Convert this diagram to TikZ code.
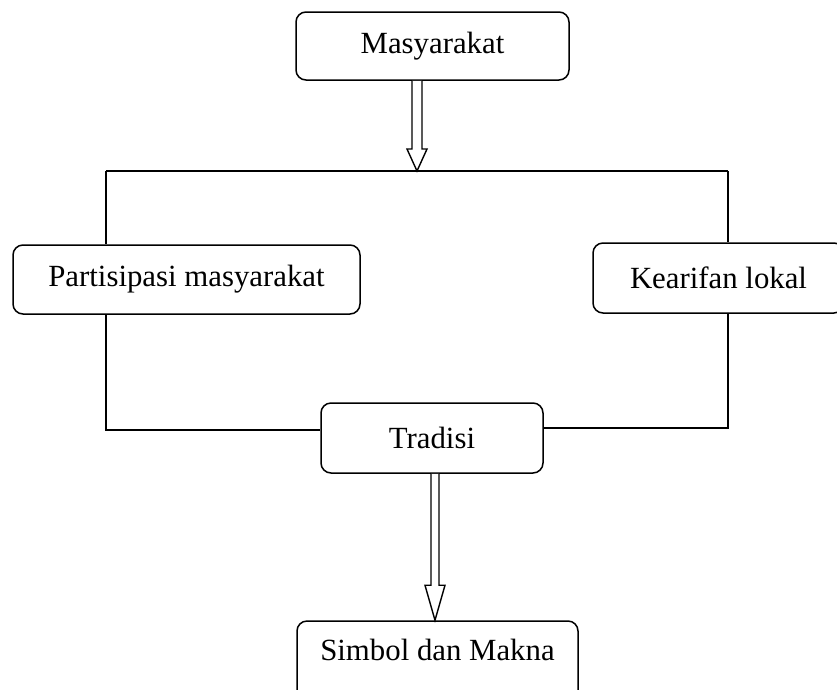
\documentclass[tikz,border=0pt]{standalone}
\usepackage{fontspec}
\setmainfont{Liberation Serif}
\usetikzlibrary{calc}
\newcommand\hollowdown[5]{% start, end, half shaft, half head, head length
  \path[hollow] let \p1=(#1), \p2=(#2) in
    (\x1-#3,\y1) -- (\x1-#3,\y2+#5) -- (\x1-#4,\y2+#5) -- (\x1,\y2)
    -- (\x1+#4,\y2+#5) -- (\x1+#3,\y2+#5) -- (\x1+#3,\y1);}
\begin{document}
\begin{tikzpicture}[x=1pt,y=-1pt,
  box/.style={draw, line width=1.5pt, rounded corners=10pt, inner sep=0pt,
    font=\fontsize{30.8}{36}\selectfont},
  conn/.style={line width=1.5pt},
  hollow/.style={draw, line width=1.4pt, fill=white, line join=miter}]
\clip (0,0) rectangle (837,689);
\fill[white] (0,0) rectangle (837,689);
% connector frame coordinates
\coordinate (tl) at (106,171);
\coordinate (tr) at (728,171);
\coordinate (bl) at (106,430);
\coordinate (br) at (728,428);
% nodes
\node[box, minimum width=273pt, minimum height=68pt] (m) at (432.5,46) {Masyarakat};
\node[box, minimum width=347pt, minimum height=69pt] (p) at (186.5,279.5) {Partisipasi masyarakat};
\node[box, minimum width=251pt, minimum height=70pt] (k) at (718.5,278) {Kearifan lokal};
\node[box, minimum width=222pt, minimum height=70pt] (t) at (432,438) {Tradisi};
\node[box, minimum width=281pt, minimum height=80pt, text height=20pt, text depth=22pt] (s) at (437.5,661) {Simbol dan Makna};
% frame lines
\draw[conn] (tl) -- (tr);
\draw[conn] (tl) -- (tl |- p.north);
\draw[conn] (p.south -| tl) -- (bl) -- (bl -| t.west);
\draw[conn] (tr) -- (tr |- k.north);
\draw[conn] (k.south -| tr) -- (br) -- (br -| t.east);
% hollow arrows
\coordinate (a1s) at ($(m.south)+(-15.5,0)$);
\coordinate (a1e) at (a1s |- tl);
\hollowdown{a1s}{a1e}{5pt}{10pt}{22pt}
\coordinate (a2s) at ($(t.south)+(3,0)$);
\coordinate (a2e) at (a2s |- s.north);
\hollowdown{a2s}{a2e}{4pt}{10pt}{35pt}
\end{tikzpicture}
\end{document}
